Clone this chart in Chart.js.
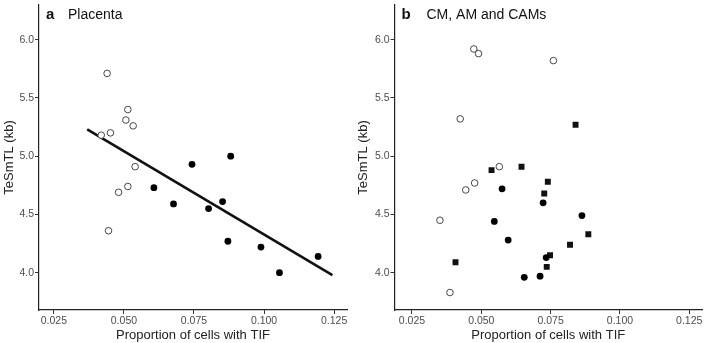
<!DOCTYPE html>
<html>
<head>
<meta charset="utf-8">
<script src="https://cdn.jsdelivr.net/npm/chart.js@4"></script>
<style>
  body { margin: 0; background: #fff; }
  .panel { position: absolute; top: 0; width: 354px; height: 343px; }
</style>
</head>
<body>
<div class="panel" style="left:0"><canvas id="chartA" width="354" height="343"></canvas></div>
<div class="panel" style="left:354px"><canvas id="chartB" width="354" height="343"></canvas></div>
<script>
// Panel a: placenta
const placentaOpenX = [0.0440, 0.0514, 0.0507, 0.0533, 0.0419, 0.0452, 0.0540, 0.0514, 0.0481, 0.0445];
const placentaOpenY = [5.71, 5.40, 5.31, 5.26, 5.18, 5.20, 4.91, 4.74, 4.69, 4.36];
const placentaFilledX = [0.0607, 0.0743, 0.0881, 0.0677, 0.0802, 0.0852, 0.0871, 0.0989, 0.1055, 0.1193];
const placentaFilledY = [4.73, 4.93, 5.00, 4.59, 4.55, 4.61, 4.27, 4.22, 4.00, 4.14];
const fitLineX = [0.0369, 0.1244];
const fitLineY = [5.23, 3.98];

// Panel b: CM, AM and CAMs
const membraneOpenX = [0.0473, 0.0490, 0.0760, 0.0424, 0.0565, 0.0476, 0.0444, 0.0351, 0.0387];
const membraneOpenY = [5.92, 5.88, 5.82, 5.32, 4.91, 4.77, 4.71, 4.45, 3.83];
const membraneFilledX = [0.0575, 0.0723, 0.0547, 0.0863, 0.0597, 0.0734, 0.0655, 0.0712];
const membraneFilledY = [4.72, 4.60, 4.44, 4.49, 4.28, 4.13, 3.96, 3.97];
const membraneSquareX = [0.0840, 0.0645, 0.0537, 0.0740, 0.0727, 0.0886, 0.0820, 0.0748, 0.0736, 0.0407];
const membraneSquareY = [5.27, 4.91, 4.88, 4.78, 4.68, 4.33, 4.24, 4.15, 4.05, 4.09];

const xTicks = [0.025, 0.05, 0.075, 0.1, 0.125];
const yTicks = [4.0, 4.5, 5.0, 5.5, 6.0];

const FONT = "'Liberation Sans', Arial, sans-serif";

function pts(xs, ys) {
  return xs.map((x, i) => ({ x: x, y: ys[i] }));
}

// draws the "a  Placenta" label inside the plot area
const panelLabel = {
  id: 'panelLabel',
  afterDraw(chart, args, opts) {
    const ctx = chart.ctx;
    const left = chart.chartArea.left;
    ctx.save();
    ctx.fillStyle = '#111';
    ctx.textBaseline = 'alphabetic';
    ctx.font = 'bold 15px ' + FONT;
    ctx.fillText(opts.letter, left + 7, 18.5);
    ctx.font = '14px ' + FONT;
    ctx.fillText(opts.text, left + opts.textOffset, 18.5);
    ctx.restore();
  }
};

// keep the plot area where ggplot put it: no extra room for overhanging labels
function noOverhang(s) {
  s.paddingTop = 0;
  s.paddingBottom = 0;
  s.paddingLeft = 0;
  s.paddingRight = 0;
}

function makeOptions(yWidth, xMin, xMax, label) {
  return {
    responsive: false,
    animation: false,
    layout: { padding: { top: 0, right: 354 - xMax, left: 0, bottom: 0 } },
    plugins: {
      legend: { display: false },
      tooltip: { enabled: false },
      panelLabel: label
    },
    scales: {
      x: {
        type: 'linear',
        min: xMin,
        max: 0.1296,
        afterBuildTicks: s => { s.ticks = xTicks.map(v => ({ value: v })); },
        afterFit: s => { s.height = 33; noOverhang(s); },
        grid: { drawOnChartArea: false, drawTicks: true, tickLength: 4, color: '#333' },
        border: { display: true, color: '#222', width: 1.2 },
        ticks: { color: '#4d4d4d', font: { family: FONT, size: 10.5 }, padding: 1,
                 maxRotation: 0, callback: v => v.toFixed(3) },
        title: { display: true, text: 'Proportion of cells with TIF', color: '#222',
                 font: { family: FONT, size: 13 }, padding: { top: 0, bottom: 0 } }
      },
      y: {
        type: 'linear',
        min: 3.68,
        max: 6.298,
        afterBuildTicks: s => { s.ticks = yTicks.map(v => ({ value: v })); },
        afterFit: s => { s.width = yWidth; noOverhang(s); },
        grid: { drawOnChartArea: false, drawTicks: true, tickLength: 4, color: '#333' },
        border: { display: true, color: '#222', width: 1.2 },
        ticks: { color: '#4d4d4d', font: { family: FONT, size: 10.5 }, padding: 1,
                 callback: v => v.toFixed(1) },
        title: { display: true, text: 'TeSmTL (kb)', color: '#222',
                 font: { family: FONT, size: 13 }, padding: { top: 1.5, bottom: 0 } }
      }
    }
  };
}

const openStyle = { pointStyle: 'circle', pointRadius: 3.3, backgroundColor: '#fff',
                    borderColor: '#333', borderWidth: 0.9, showLine: false };
const filledStyle = { pointStyle: 'circle', pointRadius: 3.4, backgroundColor: '#000',
                      borderColor: '#000', borderWidth: 0, showLine: false };
const squareStyle = { pointStyle: 'rect', pointRadius: 4.2, backgroundColor: '#111',
                      borderColor: '#111', borderWidth: 0, showLine: false };

new Chart(document.getElementById('chartA'), {
  type: 'scatter',
  data: {
    datasets: [
      Object.assign({ data: pts(fitLineX, fitLineY), showLine: true, pointRadius: 0,
                      borderColor: '#111', borderWidth: 2.6, order: 3 }),
      Object.assign({ data: pts(placentaOpenX, placentaOpenY), order: 1 }, openStyle),
      Object.assign({ data: pts(placentaFilledX, placentaFilledY), order: 2 }, filledStyle)
    ]
  },
  options: makeOptions(39, 0.0197, 347, { letter: 'a', text: 'Placenta', textOffset: 29 }),
  plugins: [panelLabel]
});

new Chart(document.getElementById('chartB'), {
  type: 'scatter',
  data: {
    datasets: [
      Object.assign({ data: pts(membraneOpenX, membraneOpenY) }, openStyle),
      Object.assign({ data: pts(membraneFilledX, membraneFilledY) }, filledStyle),
      Object.assign({ data: pts(membraneSquareX, membraneSquareY) }, squareStyle)
    ]
  },
  options: makeOptions(40.5, 0.0187, 348, { letter: 'b', text: 'CM, AM and CAMs', textOffset: 32 }),
  plugins: [panelLabel]
});
</script>
</body>
</html>
